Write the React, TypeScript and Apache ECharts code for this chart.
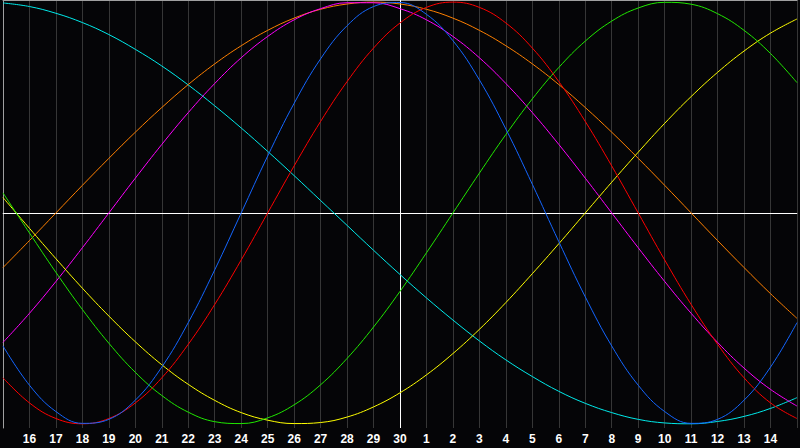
import React, { useEffect, useRef } from "react";
import * as echarts from "echarts";

const dayLabels = [
  "15", "16", "17", "18", "19", "20", "21", "22", "23", "24", "25", "26", "27", "28", "29", "30",
  "1", "2", "3", "4", "5", "6", "7", "8", "9", "10", "11", "12", "13", "14", "15",
];

const physical = [
  -0.631, -0.817, -0.942, -0.998, -0.979, -0.888, -0.731, -0.520, -0.270, 0, 0.270, 0.520, 0.731, 0.888, 0.979, 0.998,
  0.942, 0.817, 0.631, 0.398, 0.136, -0.136, -0.398, -0.631, -0.817, -0.942, -0.998, -0.979, -0.888, -0.731, -0.520,
];
const emotional = [
  -0.782, -0.901, -0.975, -1.0, -0.975, -0.901, -0.782, -0.623, -0.434, -0.223, 0, 0.223, 0.434, 0.623, 0.782, 0.901,
  0.975, 1.0, 0.975, 0.901, 0.782, 0.623, 0.434, 0.223, 0, -0.223, -0.434, -0.623, -0.782, -0.901, -0.975,
];
const intellectual = [
  0.095, -0.095, -0.282, -0.458, -0.618, -0.756, -0.866, -0.945, -0.990, -0.999, -0.972, -0.910, -0.815, -0.690, -0.541, -0.372,
  -0.189, 0, 0.189, 0.372, 0.541, 0.690, 0.815, 0.910, 0.972, 0.999, 0.990, 0.945, 0.866, 0.756, 0.618,
];
const intuitive = [
  -0.614, -0.476, -0.325, -0.165, 0, 0.165, 0.325, 0.476, 0.614, 0.736, 0.837, 0.916, 0.969, 0.997, 0.997, 0.969,
  0.916, 0.837, 0.736, 0.614, 0.476, 0.325, 0.165, 0, -0.165, -0.325, -0.476, -0.614, -0.736, -0.837, -0.916,
];
const aesthetic = [
  0.073, -0.073, -0.217, -0.357, -0.489, -0.611, -0.720, -0.813, -0.889, -0.947, -0.983, -0.999, -0.994, -0.968, -0.920, -0.853,
  -0.768, -0.667, -0.552, -0.425, -0.288, -0.146, 0, 0.146, 0.288, 0.425, 0.552, 0.667, 0.768, 0.853, 0.920,
];
const awareness = [
  -0.259, -0.131, 0, 0.131, 0.259, 0.383, 0.5, 0.609, 0.707, 0.793, 0.866, 0.924, 0.966, 0.991, 1.0, 0.991,
  0.966, 0.924, 0.866, 0.793, 0.707, 0.609, 0.5, 0.383, 0.259, 0.131, 0, -0.131, -0.259, -0.383, -0.5,
];
const spiritual = [
  0.996, 0.979, 0.947, 0.903, 0.846, 0.776, 0.697, 0.607, 0.508, 0.403, 0.292, 0.177, 0.059, -0.059, -0.177, -0.292,
  -0.403, -0.508, -0.607, -0.697, -0.776, -0.846, -0.903, -0.947, -0.979, -0.996, -1.0, -0.989, -0.965, -0.927, -0.876,
];

const seriesDefs = [
  { name: "Spiritual", data: spiritual, color: "#00eaea" },
  { name: "Awareness", data: awareness, color: "#ff8000" },
  { name: "Intuitive", data: intuitive, color: "#ff00ff" },
  { name: "Aesthetic", data: aesthetic, color: "#ffff00" },
  { name: "Intellectual", data: intellectual, color: "#20e800" },
  { name: "Emotional", data: emotional, color: "#ff0000" },
  { name: "Physical", data: physical, color: "#1466ff" },
];

export default function App() {
  const ref = useRef<HTMLDivElement>(null);

  useEffect(() => {
    if (!ref.current) return;
    const chart = echarts.init(ref.current, null, { renderer: "svg" });
    const last = dayLabels.length - 1;
    chart.setOption({
      animation: false,
      backgroundColor: "#050507",
      grid: { left: 0, right: 0, top: 0, bottom: 20, containLabel: false },
      xAxis: [
        {
          type: "category",
          data: dayLabels,
          boundaryGap: false,
          axisTick: { show: false },
          axisLine: { show: true, lineStyle: { color: "#a0a0a0", width: 1 } },
          axisLabel: {
            interval: 0,
            margin: 5,
            color: "#ffffff",
            fontWeight: "bold",
            fontFamily: "Liberation Sans",
            fontSize: 12,
            formatter: (v: string, i: number) => (i === 0 || i === last ? "" : v),
          },
          splitLine: { show: true, interval: 0, lineStyle: { color: "#363636", width: 1 } },
        },
        {
          type: "category",
          data: dayLabels,
          boundaryGap: false,
          position: "top",
          axisTick: { show: false },
          axisLabel: { show: false },
          axisLine: { show: true, lineStyle: { color: "#a0a0a0", width: 1 } },
          splitLine: { show: false },
        },
      ],
      yAxis: {
        type: "value",
        min: -1.02,
        max: 1.01,
        axisLine: { show: true, lineStyle: { color: "#a0a0a0", width: 1 } },
        axisTick: { show: false },
        axisLabel: { show: false },
        splitLine: { show: false },
      },
      series: seriesDefs.map((s, idx) => ({
        type: "line",
        name: s.name,
        data: s.data,
        smooth: 0.4,
        showSymbol: false,
        symbol: "none",
        lineStyle: { color: s.color, width: 1 },
        z: 3,
        ...(idx === 0
          ? {
              markLine: {
                silent: true,
                symbol: ["none", "none"],
                label: { show: false },
                z: 1,
                lineStyle: { color: "#ffffff", width: 1, type: "solid" },
                data: [{ xAxis: 15 }, { yAxis: 0 }],
              },
            }
          : {}),
      })),
    });
    return () => chart.dispose();
  }, []);

  return (
    <div
      ref={ref}
      style={{ position: "fixed", left: 0, top: 0, width: 800, height: 448 }}
    />
  );
}
